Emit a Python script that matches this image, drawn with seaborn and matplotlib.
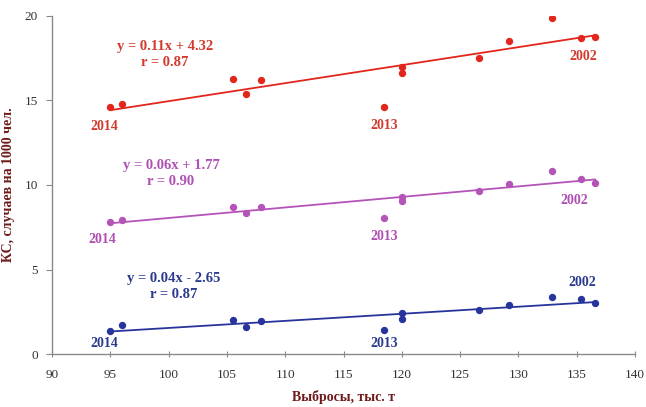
import matplotlib
matplotlib.use("Agg")
import matplotlib.pyplot as plt
import seaborn as sns
import pandas as pd

# Emissions (thousand tonnes) for each year, 2002-2014
emissions = [136.6, 135.4, 132.9, 129.2, 126.6, 120.0, 120.0, 107.9, 106.6, 105.5, 96.0, 118.5, 95.0]
years = [2002, 2003, 2004, 2005, 2006, 2007, 2008, 2009, 2010, 2011, 2012, 2013, 2014]

# Cases per 1000 people, three indicators
cases_top = [18.76, 18.72, 19.90, 18.54, 17.50, 17.00, 16.65, 16.20, 15.40, 16.27, 14.80, 14.60, 14.60]
cases_mid = [10.14, 10.33, 10.85, 10.04, 9.63, 9.31, 9.07, 8.72, 8.32, 8.72, 7.93, 8.07, 7.83]
cases_low = [3.00, 3.25, 3.39, 2.90, 2.60, 2.44, 2.09, 1.95, 1.58, 2.01, 1.72, 1.42, 1.38]

equations = ["y = 0.11x + 4.32\nr = 0.87", "y = 0.06x + 1.77\nr = 0.90", "y = 0.04x - 2.65\nr = 0.87"]

sns.set_style("white")
plt.rcParams["font.family"] = ["Liberation Serif", "DejaVu Serif"]

fig = plt.figure(figsize=(6.46, 4.07), dpi=100)
ax = fig.add_axes([0.0805, 0.130, 0.9025, 0.831])

df = pd.DataFrame({"x": emissions, "year": years,
                   "top": cases_top, "mid": cases_mid, "low": cases_low})

series = [
    ("top", "#e2261c", "#d23a2e", (99.7, 17.72),
     [(94.5, 13.43, 2014), (118.5, 13.5, 2013), (135.6, 17.57, 2002)]),
    ("mid", "#b453b8", "#b04fb4", (100.2, 10.65),
     [(94.3, 6.8, 2014), (118.5, 6.98, 2013), (134.8, 9.11, 2002)]),
    ("low", "#27349c", "#2c3a8e", (100.45, 4.02),
     [(94.5, 0.65, 2014), (118.5, 0.65, 2013), (135.5, 4.26, 2002)]),
]

for (col, color, tcolor, eq_pos, year_pos), eq in zip(series, equations):
    sns.regplot(data=df, x="x", y=col, ax=ax, ci=None, color=color,
                scatter_kws={"s": 28, "linewidths": 0, "alpha": 1},
                line_kws={"lw": 1.3})
    ax.text(eq_pos[0], eq_pos[1], eq, ha="center", va="center", color=tcolor,
            fontsize=10.5, fontweight="bold", linespacing=1.3)
    for xx, yy, yr in year_pos:
        ax.text(xx, yy, str(yr), ha="center", va="center", color=tcolor,
                fontsize=10, fontweight="bold")

ax.set_xlim(90, 140)
ax.set_ylim(0, 20)
ax.set_xticks(range(90, 141, 5))
ax.set_yticks([0, 5, 10, 15, 20])

for side in ("top", "right"):
    ax.spines[side].set_visible(False)
for side in ("left", "bottom"):
    ax.spines[side].set_color("#8a8a8a")
    ax.spines[side].set_linewidth(1.0)

ax.tick_params(axis="y", direction="out", length=4, color="#8a8a8a",
               labelsize=9.5, labelcolor="#333333", left=True, pad=6)
ax.tick_params(axis="x", direction="inout", length=5, color="#8a8a8a",
               labelsize=9.5, labelcolor="#333333", bottom=True, pad=8)

ax.set_xlabel("Выбросы, тыс. т", fontsize=10, fontweight="bold", color="#6e1a1a")
ax.set_ylabel("КС, случаев на 1000 чел.", fontsize=10, fontweight="bold",
              color="#6e1a1a")
ax.xaxis.set_label_coords(0.5, -0.105)
ax.yaxis.set_label_coords(-0.064, 0.5)

fig.savefig("out.png", dpi=100)
